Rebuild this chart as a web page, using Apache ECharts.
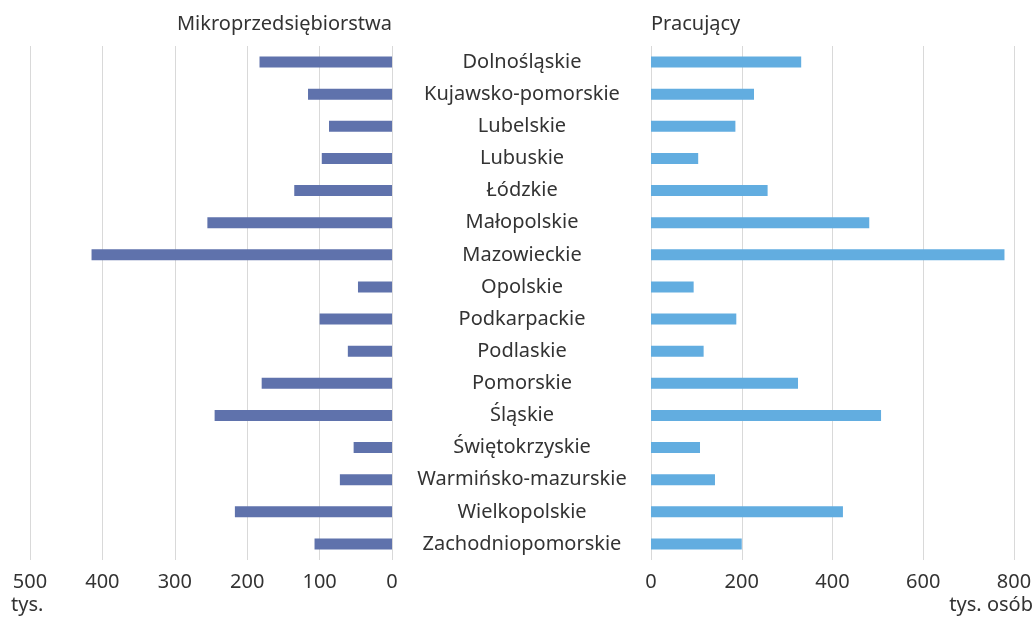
<!DOCTYPE html>
<html lang="pl">
  <head>
    <meta charset="UTF-8" />
    <title>Mikroprzedsiębiorstwa i pracujący</title>
    <script src="https://cdn.jsdelivr.net/npm/echarts@6/dist/echarts.min.js"></script>
    <style>
      body { margin: 0; background: #fff; }
    </style>
  </head>
  <body>
    <div id="main" style="width: 1035px; height: 617px"></div>
    <script type="text/javascript">
      // regions, top to bottom
      const regions = [
        "Dolnośląskie", "Kujawsko-pomorskie", "Lubelskie", "Lubuskie",
        "Łódzkie", "Małopolskie", "Mazowieckie", "Opolskie",
        "Podkarpackie", "Podlaskie", "Pomorskie", "Śląskie",
        "Świętokrzyskie", "Warmińsko-mazurskie", "Wielkopolskie", "Zachodniopomorskie"
      ];
      // tys.
      const mikro = [183, 116, 87, 97, 135, 255, 415, 47, 100, 61, 180, 245, 53, 72, 217, 107];
      // tys. osób
      const pracujacy = [331, 227, 186, 104, 257, 481, 779, 94, 188, 116, 324, 507, 108, 141, 423, 200];

      const font = "'Noto Sans', sans-serif";
      const textColor = "#333";
      const gridColor = "#d9d9d9";
      const fs = 20;

      let myChart = echarts.init(document.getElementById("main"));
      let options = {
        animation: false,
        textStyle: { fontFamily: font },
        grid: [
          { left: 30, right: 643, top: 46, height: 514 },
          { left: 651, right: 21, top: 46, height: 514 }
        ],
        xAxis: [
          {
            gridIndex: 0, type: "value", inverse: true,
            min: 0, max: 500, interval: 100,
            axisLine: { show: false }, axisTick: { show: false },
            splitLine: { lineStyle: { color: gridColor } },
            axisLabel: { color: textColor, fontSize: fs, margin: 12, fontFamily: font }
          },
          {
            gridIndex: 1, type: "value",
            min: 0, max: 800, interval: 200,
            axisLine: { show: false }, axisTick: { show: false },
            splitLine: { lineStyle: { color: gridColor } },
            axisLabel: { color: textColor, fontSize: fs, margin: 12, fontFamily: font }
          }
        ],
        yAxis: [
          {
            gridIndex: 0, type: "category", data: regions, inverse: true,
            position: "right",
            axisLine: { show: false }, axisTick: { show: false },
            axisLabel: { show: false }
          },
          {
            gridIndex: 1, type: "category", data: regions, inverse: true,
            axisLine: { show: false }, axisTick: { show: false },
            axisLabel: {
              color: textColor, fontSize: fs, align: "center", margin: 129, fontFamily: font
            }
          }
        ],
        series: [
          {
            name: "Mikroprzedsiębiorstwa", type: "bar",
            xAxisIndex: 0, yAxisIndex: 0,
            barWidth: 11, data: mikro,
            itemStyle: { color: "#5f72ac" }
          },
          {
            name: "Pracujący", type: "bar",
            xAxisIndex: 1, yAxisIndex: 1,
            barWidth: 11, data: pracujacy,
            itemStyle: { color: "#62ade0" }
          }
        ],
        graphic: [
          {
            type: "text", right: 643, top: 14,
            style: { text: "Mikroprzedsiębiorstwa", fill: textColor, font: fs + "px " + font }
          },
          {
            type: "text", left: 651, top: 14,
            style: { text: "Pracujący", fill: textColor, font: fs + "px " + font }
          },
          {
            type: "text", left: 11, top: 595,
            style: { text: "tys.", fill: textColor, font: fs + "px " + font }
          },
          {
            type: "text", right: 2, top: 595,
            style: { text: "tys. osób", fill: textColor, font: fs + "px " + font }
          }
        ]
      };
      myChart.setOption(options);
    </script>
  </body>
</html>
